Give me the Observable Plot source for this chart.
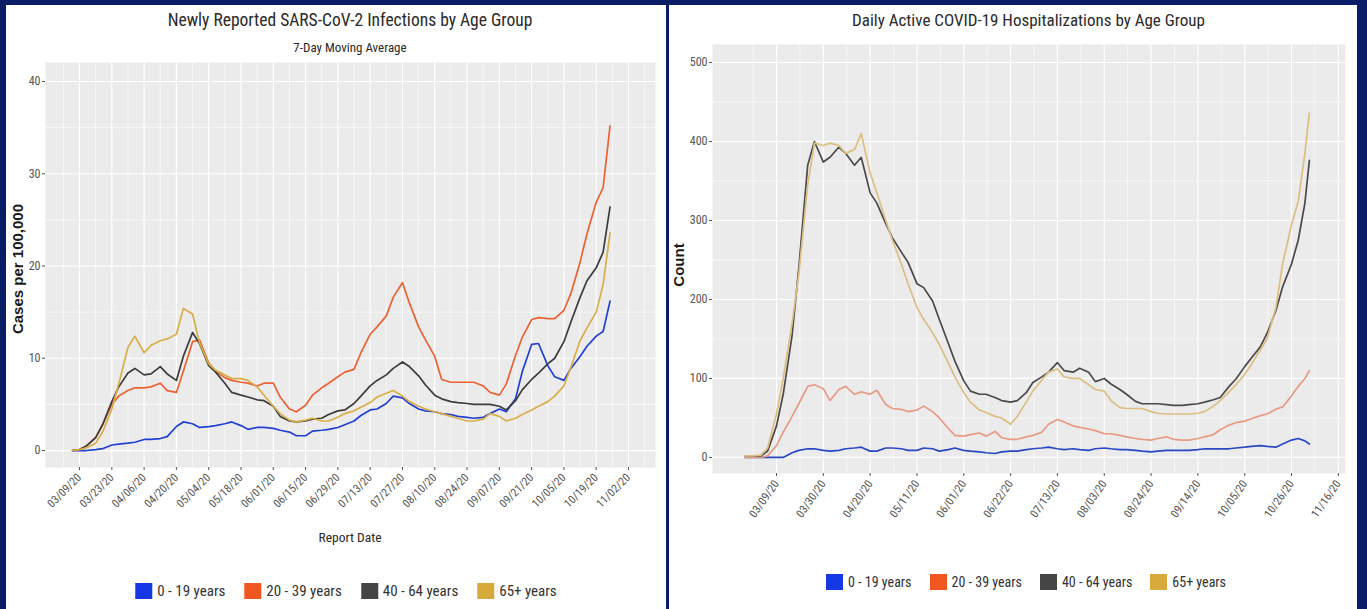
<!DOCTYPE html>
<html><head><meta charset="utf-8">
<script src="https://cdn.jsdelivr.net/npm/d3@7"></script>
<script src="https://cdn.jsdelivr.net/npm/@observablehq/plot@0.6"></script>
<style>
html,body{margin:0;padding:0;}
body{width:1367px;height:609px;background:#0b1c66;position:relative;overflow:hidden;
  font-family:"Liberation Sans Narrow","Arial Narrow","Roboto Condensed","DejaVu Sans Condensed","Liberation Sans",sans-serif;}
.panel{position:absolute;background:#fff;overflow:hidden;}
.panel svg{position:absolute;left:0;top:0;}
.t{position:absolute;white-space:nowrap;color:#2a2a2a;text-align:center;}
.ylab{position:absolute;white-space:nowrap;font-family:"Liberation Sans",Arial,sans-serif;font-weight:bold;font-size:15px;color:#1a1a1a;transform:translate(-50%,-50%) rotate(-90deg);}
.legend{position:absolute;display:flex;align-items:center;transform:translateX(-50%);color:#333;white-space:nowrap;}
.legend .it{display:flex;align-items:center;gap:5px;}
.legend .sw{width:17px;height:16px;display:inline-block;}
</style></head>
<body>
<div class="panel" id="pl" style="left:6px;top:5px;width:660px;height:604px"></div>
<div class="panel" id="pr" style="left:669px;top:5px;width:688px;height:604px"></div>
<script>
// ---------------- DATA ----------------
const ageGroups = ["0 - 19 years", "20 - 39 years", "40 - 64 years", "65+ years"];

// Left chart: newly reported infections, 7-day moving average, cases per 100,000
const caseDates = ["2020-03-06","2020-03-09","2020-03-12","2020-03-16","2020-03-19","2020-03-23","2020-03-26","2020-03-30",
"2020-04-02","2020-04-06","2020-04-09","2020-04-13","2020-04-16","2020-04-20","2020-04-23","2020-04-27","2020-04-30",
"2020-05-04","2020-05-07","2020-05-11","2020-05-14","2020-05-18","2020-05-21","2020-05-25","2020-05-28",
"2020-06-01","2020-06-04","2020-06-08","2020-06-11","2020-06-15","2020-06-18","2020-06-22","2020-06-25","2020-06-29",
"2020-07-02","2020-07-06","2020-07-09","2020-07-13","2020-07-16","2020-07-20","2020-07-23","2020-07-27","2020-07-30",
"2020-08-03","2020-08-06","2020-08-10","2020-08-13","2020-08-17","2020-08-20","2020-08-24","2020-08-27","2020-08-31",
"2020-09-03","2020-09-07","2020-09-10","2020-09-14","2020-09-17","2020-09-21","2020-09-24","2020-09-28",
"2020-10-01","2020-10-05","2020-10-08","2020-10-12","2020-10-15","2020-10-19","2020-10-22","2020-10-25"];
const cases0to19 = [0,0,0,0.1,0.2,0.6,0.7,0.8,0.9,1.2, 1.2,1.3,1.5,2.6,3.1,2.9,2.5,2.6,2.7,2.9, 3.1,2.7,2.3,2.5,2.5,2.4,2.2,2.0,1.6,1.6,
  2.1,2.2,2.3,2.5,2.8,3.2,3.8,4.4,4.5,5.1, 5.9,5.7,5.1,4.5,4.3,4.2,4.0,3.9,3.7,3.6, 3.5,3.6,4.0,4.5,4.2,5.6,8.6,11.5,11.6,9.2, 8.0,7.6,8.9,10.2,11.3,12.4,12.9,16.2];
const cases20to39 = [0,0.1,0.5,1.4,2.8,5.0,5.9,6.5,6.8,6.8, 6.9,7.3,6.5,6.3,8.6,11.8,12.0,9.5,8.6,7.9, 7.6,7.4,7.3,7.0,7.3,7.3,5.8,4.5,4.2,4.9,
  6.0,6.8,7.3,8.0,8.5,8.8,10.6,12.6,13.4,14.6, 16.6,18.2,16.0,13.4,12.0,10.2,7.7,7.4,7.4,7.4, 7.4,7.0,6.3,6.0,7.2,10.3,12.3,14.2,14.4,14.3, 14.3,15.2,17.0,20.4,23.5,26.9,28.5,35.2];
const cases40to64 = [0,0.1,0.5,1.4,2.8,5.3,6.9,8.4,8.9,8.2, 8.3,9.1,8.3,7.6,10.2,12.8,11.6,9.2,8.5,7.3, 6.3,6.0,5.8,5.5,5.4,4.8,3.7,3.2,3.1,3.2,
  3.4,3.5,3.9,4.3,4.4,5.1,5.9,7.0,7.6,8.2, 8.9,9.6,9.1,8.1,7.1,6.0,5.6,5.3,5.2,5.1, 5.0,5.0,5.0,4.8,4.4,5.4,6.6,7.7,8.4,9.4, 10.0,11.8,13.9,16.6,18.4,19.8,21.5,26.4];
const cases65plus = [0,0.1,0.3,0.8,2.0,4.5,7.2,11.2,12.4,10.6, 11.4,11.9,12.1,12.6,15.4,14.8,11.7,9.4,8.7,8.2, 7.8,7.8,7.6,6.9,6.0,4.8,4.0,3.3,3.1,3.3,
  3.5,3.2,3.2,3.6,4.0,4.3,4.7,5.2,5.8,6.2, 6.5,5.9,5.3,4.8,4.5,4.2,4.0,3.7,3.5,3.2, 3.2,3.4,4.0,3.7,3.2,3.5,3.9,4.4,4.8,5.3, 5.9,7.0,9.0,11.9,13.3,15.0,18.0,23.6];
const caseXTicks = ["03/09/20","03/23/20","04/06/20","04/20/20","05/04/20","05/18/20","06/01/20","06/15/20","06/29/20",
  "07/13/20","07/27/20","08/10/20","08/24/20","09/07/20","09/21/20","10/05/20","10/19/20","11/02/20"];
const caseYTicks = [0, 10, 20, 30, 40];

// Right chart: daily active hospitalizations, count
const hospDates = ["2020-02-24","2020-02-27","2020-03-02","2020-03-05","2020-03-09","2020-03-12","2020-03-16","2020-03-19","2020-03-23","2020-03-26",
"2020-03-30","2020-04-02","2020-04-06","2020-04-09","2020-04-13","2020-04-16","2020-04-20","2020-04-23","2020-04-27","2020-04-30",
"2020-05-04","2020-05-07","2020-05-11","2020-05-14","2020-05-18","2020-05-21","2020-05-25","2020-05-28","2020-06-01","2020-06-04",
"2020-06-08","2020-06-11","2020-06-15","2020-06-18","2020-06-22","2020-06-25","2020-06-29","2020-07-02","2020-07-06","2020-07-09",
"2020-07-13","2020-07-16","2020-07-20","2020-07-23","2020-07-27","2020-07-30","2020-08-03","2020-08-06","2020-08-10","2020-08-13",
"2020-08-17","2020-08-20","2020-08-24","2020-08-27","2020-08-31","2020-09-03","2020-09-07","2020-09-10","2020-09-14","2020-09-17",
"2020-09-21","2020-09-24","2020-09-28","2020-10-01","2020-10-05","2020-10-08","2020-10-12","2020-10-15","2020-10-19","2020-10-22",
"2020-10-26","2020-10-29","2020-11-01","2020-11-03"];
const hosp0to19 = [0,0,0,0,0,0,6,9,11,11, 9,8,9,11,12,13,8,8,12,12, 11,9,9,12,11,8,10,12,9,8, 7,6,5,7,8,8,10,11,12,13,
  11,10,11,10,9,11,12,11,10,10, 9,8,7,8,9,9,9,9,10,11, 11,11,11,12,13,14,15,14,13,17, 22,24,21,17];
const hosp20to39 = [0,0,0,2,15,32,52,68,90,92, 87,72,86,90,80,83,80,85,67,62, 61,58,60,65,58,50,37,28,27,29, 31,27,33,25,23,23,26,28,32,42,
  48,45,40,38,36,34,30,30,28,26, 24,23,22,24,26,23,22,22,24,26, 29,35,41,44,46,49,53,55,61,64, 78,90,100,110];
const hosp40to64 = [2,2,2,8,40,80,155,240,370,400, 374,380,393,385,370,380,335,322,296,278, 260,247,220,215,198,175,145,122,97,84,
  80,80,76,72,70,72,82,95,102,108, 120,110,108,113,108,96,100,93,86,80, 71,68,68,68,67,66,66,67,68,70, 73,76,90,99,115,126,140,157,186,216, 245,275,322,376];
const hosp65plus = [2,2,3,12,55,100,170,232,345,398, 395,398,395,385,390,410,360,335,300,275, 245,220,190,175,158,143,120,102,82,70,
  60,57,52,50,42,52,70,84,98,108, 112,102,100,100,92,86,84,72,63,62, 62,62,58,56,55,55,55,55,56,58, 65,72,83,92,105,118,136,150,190,245, 295,324,385,436];
const hospXTicks = ["03/09/20","03/30/20","04/20/20","05/11/20","06/01/20","06/22/20","07/13/20","08/03/20","08/24/20",
  "09/14/20","10/05/20","10/26/20","11/16/20"];
const hospYTicks = [0, 100, 200, 300, 400, 500];

// ---------------- STYLE ----------------
const legendColors = ["#1537e6", "#f0561f", "#454545", "#d7aa3c"];
const caseLineColors = ["#2340d4", "#ec6234", "#3c3c3c", "#d9ad48"];
const hospLineColors = ["#2b47c4", "#e99a84", "#4a4a4a", "#dcbf80"];
const fontStack = "'Liberation Sans Narrow','Arial Narrow','Roboto Condensed','DejaVu Sans Condensed','Liberation Sans',sans-serif";

const parseTick = d3.utcParse("%m/%d/%y");
const fmtTick = d3.utcFormat("%m/%d/%y");

function seriesRows(dates, values) {
  return dates.map((d, i) => ({date: new Date(d + "T00:00:00Z"), value: values[i]}));
}
function midpoints(arr, domain) {
  const out = d3.pairs(arr, (a, b) => (+a + +b) / 2);
  const step = arr[1] - arr[0];
  out.unshift(+arr[0] - step / 2);
  out.push(+arr[arr.length - 1] + step / 2);
  return out.filter(v => v >= +domain[0] && v <= +domain[1]);
}

function chart({width, height, mt, mb, ml, mr, xDomain, yDomain, xTicks, yTicks, dates, series, colors, rotate, strokeW}) {
  const xt = xTicks.map(parseTick);
  const xMinor = midpoints(xt, xDomain).map(v => new Date(v));
  const yMinor = midpoints(yTicks, yDomain);
  return Plot.plot({
    width, height, marginTop: mt, marginBottom: mb, marginLeft: ml, marginRight: mr,
    x: {type: "utc", domain: xDomain},
    y: {domain: yDomain},
    style: {fontFamily: fontStack, fontSize: "12px", color: "#555", background: "transparent", overflow: "visible"},
    marks: [
      Plot.frame({fill: "#ebebeb", stroke: "none"}),
      Plot.gridX(xMinor, {stroke: "#fff", strokeOpacity: 1, strokeWidth: 0.6}),
      Plot.gridY(yMinor, {stroke: "#fff", strokeOpacity: 1, strokeWidth: 0.6}),
      Plot.gridX(xt, {stroke: "#fff", strokeOpacity: 1, strokeWidth: 1.2}),
      Plot.gridY(yTicks, {stroke: "#fff", strokeOpacity: 1, strokeWidth: 1.2}),
      ...series.map((vals, i) => Plot.line(seriesRows(dates, vals), {x: "date", y: "value", stroke: colors[i], strokeWidth: strokeW})),
      Plot.axisX(xt, {tickFormat: fmtTick, tickRotate: rotate, tickSize: 3, tickPadding: 5, label: null, fontSize: 11.5, stroke: "#555"}),
      Plot.axisY(yTicks, {tickSize: 3, tickPadding: 2, label: null, fontSize: 12, stroke: "#555"})
    ]
  });
}

function addText(panel, cls, text, css) {
  const el = document.createElement("div");
  el.className = cls;
  el.textContent = text;
  Object.assign(el.style, css);
  panel.appendChild(el);
  return el;
}
function addLegend(panel, cx, top, fontSize, gap) {
  const lg = document.createElement("div");
  lg.className = "legend";
  lg.style.left = cx + "px";
  lg.style.top = top + "px";
  lg.style.fontSize = fontSize + "px";
  lg.style.gap = gap + "px";
  ageGroups.forEach((g, i) => {
    const it = document.createElement("div"); it.className = "it";
    const sw = document.createElement("span"); sw.className = "sw"; sw.style.background = legendColors[i];
    const tx = document.createElement("span"); tx.textContent = g;
    it.appendChild(sw); it.appendChild(tx); lg.appendChild(it);
  });
  panel.appendChild(lg);
}

// ---------------- LEFT PANEL ----------------
const pl = document.getElementById("pl");
pl.appendChild(chart({
  width: 660, height: 520, mt: 57, mb: 58, ml: 39, mr: 11,
  xDomain: [new Date("2020-02-23T06:00:00Z"), new Date("2020-11-13T17:00:00Z")],
  yDomain: [-1.84, 42.06],
  xTicks: caseXTicks, yTicks: caseYTicks, dates: caseDates,
  series: [cases0to19, cases20to39, cases40to64, cases65plus],
  colors: caseLineColors, rotate: -45, strokeW: 1.7
}));
addText(pl, "t", "Newly Reported SARS-CoV-2 Infections by Age Group", {left: "39px", width: "610px", top: "5px", fontSize: "17.5px", lineHeight: "20px"});
addText(pl, "t", "7-Day Moving Average", {left: "39px", width: "610px", top: "35px", fontSize: "13px", lineHeight: "16px"});
addText(pl, "t", "Report Date", {left: "39px", width: "610px", top: "524px", fontSize: "13.5px", lineHeight: "16px"});
addText(pl, "ylab", "Cases per 100,000", {left: "11px", top: "264px"});
addLegend(pl, 340, 577, 15, 19);

// ---------------- RIGHT PANEL ----------------
const pr = document.getElementById("pr");
pr.appendChild(chart({
  width: 688, height: 520, mt: 39, mb: 52, ml: 43, mr: 12,
  xDomain: [new Date("2020-02-09T07:00:00Z"), new Date("2020-11-19T05:00:00Z")],
  yDomain: [-20.3, 522.8],
  xTicks: hospXTicks, yTicks: hospYTicks, dates: hospDates,
  series: [hosp0to19, hosp20to39, hosp40to64, hosp65plus],
  colors: hospLineColors, rotate: -55, strokeW: 1.7
}));
addText(pr, "t", "Daily Active COVID-19 Hospitalizations by Age Group", {left: "43px", width: "633px", top: "5px", fontSize: "17px", lineHeight: "20px"});
addText(pr, "ylab", "Count", {left: "9px", top: "260px"});
addLegend(pr, 357, 569, 14, 18);
</script>
</body></html>
